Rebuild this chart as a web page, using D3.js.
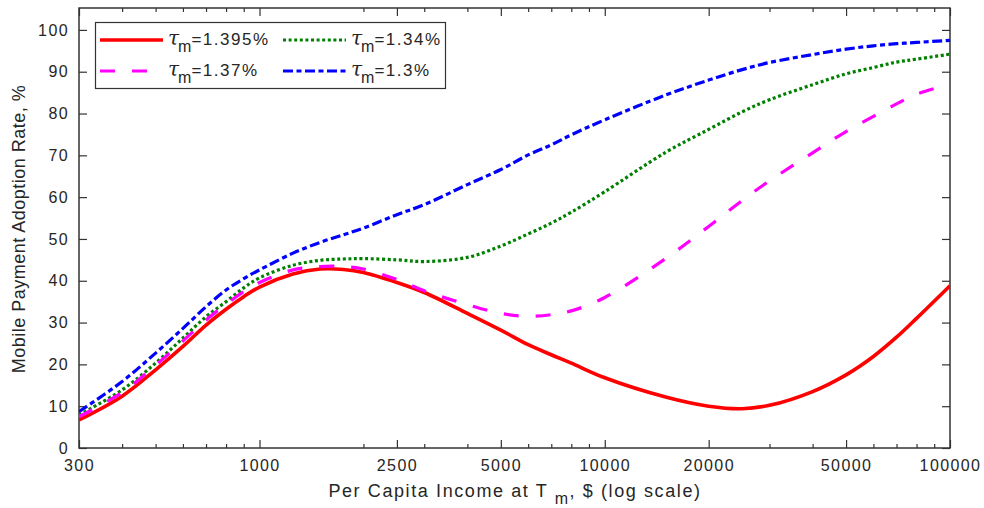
<!DOCTYPE html>
<html>
<head>
<meta charset="utf-8">
<script src="https://cdn.jsdelivr.net/npm/d3@7"></script>
<style>
  body { margin: 0; background: #fff; }
  svg { display: block; font-family: "Liberation Sans", Arial, sans-serif; }
  .tick text { fill: #262626; font-size: 16px; letter-spacing: 1.4px; }
  .tick line { stroke: #333; stroke-width: 1.2; }
  .domain { display: none; }
</style>
</head>
<body>
<svg class="chart" width="984" height="508"></svg>
<script>
// income levels (x) and adoption rates (%)
var income = [300, 400, 500, 600, 700, 800, 900, 1000, 1250, 1500, 1750, 2000, 2500, 3000, 4000,
  5000, 6000, 7000, 8000, 10000, 15000, 20000, 25000, 30000, 40000, 50000, 60000, 70000, 80000, 100000];

var rate1395 = [6.7, 12.4, 18.7, 24.3, 29.4, 33.2, 36.2, 38.5, 41.6, 42.8, 42.7, 42.0, 39.6, 37.2, 32.2,
  28.2, 24.7, 22.3, 20.3, 16.8, 12.2, 10.0, 9.4, 10.2, 13.5, 17.5, 21.9, 26.5, 31.0, 38.8];
var rate134 = [7.9, 13.9, 20.3, 26.3, 31.4, 35.0, 38.3, 40.7, 43.7, 44.9, 45.2, 45.3, 45.0, 44.6, 45.6,
  48.3, 51.2, 53.8, 56.4, 61.3, 70.7, 76.2, 80.4, 83.3, 86.9, 89.5, 91.0, 92.3, 93.0, 94.2];
var rate137 = [7.5, 13.3, 19.8, 25.6, 30.6, 34.4, 37.4, 39.6, 42.6, 43.4, 43.4, 42.8, 40.3, 37.6, 34.3,
  32.2, 31.5, 31.9, 32.8, 36.0, 45.3, 53.0, 59.2, 63.9, 70.6, 75.7, 79.3, 82.3, 84.6, 87.0];
var rate13 = [8.7, 15.9, 22.7, 28.6, 33.8, 37.8, 40.5, 42.6, 46.6, 49.2, 51.0, 52.6, 55.8, 58.2, 63.0,
  66.6, 70.1, 72.5, 74.9, 78.5, 84.4, 88.0, 90.5, 92.2, 94.1, 95.4, 96.2, 96.7, 97.0, 97.5];

var tauLabels = ["1.395%", "1.34%", "1.37%", "1.3%"];

var majorTicks = [300, 1000, 2500, 5000, 10000, 20000, 50000, 100000];
var minorTicks = [400, 500, 600, 700, 800, 900, 2000, 3000, 4000, 6000, 7000, 8000, 9000,
  30000, 40000, 60000, 70000, 80000, 90000];
var yTicks = [0, 10, 20, 30, 40, 50, 60, 70, 80, 90, 100];

var plotL = 79, plotR = 950, plotT = 8, plotB = 448;

var svg = d3.select(".chart");

var x = d3.scaleLog().domain([300, 100000]).range([plotL, plotR]);
var y = d3.scaleLinear().domain([0, 105]).range([plotB, plotT + 1]);

// bottom axis
svg.append("g")
    .attr("transform", "translate(0," + plotB + ")")
    .call(d3.axisBottom(x).tickValues(majorTicks).tickSize(-8).tickPadding(12).tickFormat(d3.format("d")));
svg.append("g")
    .attr("transform", "translate(0," + plotB + ")")
    .call(d3.axisBottom(x).tickValues(minorTicks).tickSize(-4).tickFormat(""));

// top axis
svg.append("g")
    .attr("transform", "translate(0," + plotT + ")")
    .call(d3.axisTop(x).tickValues(majorTicks).tickSize(-8).tickFormat(""));
svg.append("g")
    .attr("transform", "translate(0," + plotT + ")")
    .call(d3.axisTop(x).tickValues(minorTicks).tickSize(-4).tickFormat(""));

// left + right axes
svg.append("g")
    .attr("transform", "translate(" + plotL + ",0)")
    .call(d3.axisLeft(y).tickValues(yTicks).tickSize(-8).tickPadding(10));
svg.append("g")
    .attr("transform", "translate(" + plotR + ",0)")
    .call(d3.axisRight(y).tickValues(yTicks).tickSize(-8).tickFormat(""));

svg.append("rect")
    .attr("x", plotL)
    .attr("y", plotT)
    .attr("width", plotR - plotL)
    .attr("height", plotB - plotT)
    .attr("fill", "none")
    .attr("stroke", "#333")
    .attr("stroke-width", 1.5);

svg.append("clipPath")
    .attr("id", "plotclip")
  .append("rect")
    .attr("x", plotL)
    .attr("y", plotT)
    .attr("width", plotR - plotL)
    .attr("height", plotB - plotT);

var series = [
  { values: rate1395, color: "#ff0000", dash: null, width: 3.6 },
  { values: rate134, color: "#008000", dash: "3,2.6", width: 3.2 },
  { values: rate137, color: "#ff00ff", dash: "15,17", width: 3.2 },
  { values: rate13, color: "#0000ff", dash: "10,3.5,5,3.5", width: 3.2 }
];

var line = d3.line()
    .x(function(d, i) { return x(income[i]); })
    .y(function(d) { return y(d); })
    .curve(d3.curveCatmullRom.alpha(0.5));

svg.append("g")
    .attr("clip-path", "url(#plotclip)")
  .selectAll("path")
  .data(series)
  .enter().append("path")
    .attr("d", function(s) { return line(s.values); })
    .attr("fill", "none")
    .attr("stroke", function(s) { return s.color; })
    .attr("stroke-width", function(s) { return s.width; })
    .attr("stroke-dasharray", function(s) { return s.dash; });

// legend
var legend = svg.append("g");
legend.append("rect")
    .attr("x", 95.5)
    .attr("y", 22.5)
    .attr("width", 350)
    .attr("height", 66)
    .attr("fill", "#fff")
    .attr("stroke", "#333")
    .attr("stroke-width", 1.2);

var colX = [100, 283], rowY = [40, 71];

series.forEach(function(s, i) {
  var cx = colX[i % 2], cy = rowY[Math.floor(i / 2)];
  legend.append("line")
      .attr("x1", cx)
      .attr("x2", cx + 63)
      .attr("y1", cy)
      .attr("y2", cy)
      .attr("stroke", s.color)
      .attr("stroke-width", s.width)
      .attr("stroke-dasharray", s.dash);

  var t = legend.append("text")
      .attr("x", cx + 68)
      .attr("y", cy + 5)
      .style("font-size", "17px")
      .style("fill", "#262626");
  t.append("tspan")
      .text("\u03c4")
      .style("font-family", "'DejaVu Serif', serif")
      .style("font-style", "italic")
      .style("font-size", "20px");
  t.append("tspan")
      .attr("dy", 7)
      .attr("dx", -1)
      .text("m")
      .style("font-size", "16px");
  t.append("tspan")
      .attr("dy", -7)
      .text("=" + tauLabels[i])
      .style("letter-spacing", "1.5px");
});

// axis titles
var xt = svg.append("text")
    .attr("x", 515)
    .attr("y", 497)
    .attr("text-anchor", "middle")
    .style("font-size", "18px")
    .style("letter-spacing", "1.6px")
    .style("fill", "#262626");
xt.append("tspan").text("Per Capita Income at T ");
xt.append("tspan").attr("dy", 7).style("font-size", "16px").text("m");
xt.append("tspan").attr("dy", -7).text(", $ (log scale)");

svg.append("text")
    .attr("transform", "translate(25,229) rotate(-90)")
    .attr("text-anchor", "middle")
    .style("font-size", "18px")
    .style("letter-spacing", "0.5px")
    .style("fill", "#262626")
    .text("Mobile Payment Adoption Rate, %");
</script>
</body>
</html>
